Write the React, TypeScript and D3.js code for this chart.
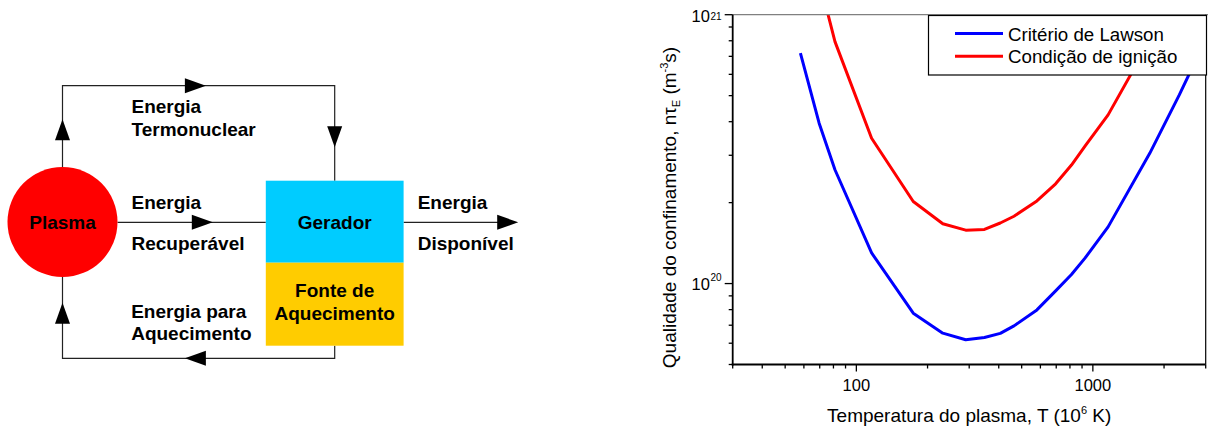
import React from "react";
import * as d3 from "d3";

// temperatures in 10^6 K, confinement quality n*tau_E in m^-3 s
const lawsonTemperature = [58, 69.6, 81.2, 116, 174, 232, 290, 348, 406, 464, 580, 696, 812, 928, 1160, 1740, 2320, 2900];
const lawsonValues = [7.19e20, 3.95e20, 2.65e20, 1.3e20, 7.76e19, 6.54e19, 6.18e19, 6.3e19, 6.53e19, 6.96e19, 7.98e19, 9.39e19, 1.08e20, 1.246e20, 1.625e20, 3.05e20, 5.03e20, 7.6e20];
const ignitionTemperature = [69.6, 81.2, 116, 174, 232, 290, 348, 406, 464, 580, 696, 812, 928, 1160, 1740, 2320];
const ignitionValues = [1.35e21, 7.94e20, 3.47e20, 2.02e20, 1.67e20, 1.58e20, 1.59e20, 1.68e20, 1.78e20, 2.03e20, 2.35e20, 2.76e20, 3.25e20, 4.24e20, 8.0e20, 1.29e21];

const seriesNames = ["Critério de Lawson", "Condição de ignição"];
const seriesColors = ["#0000ff", "#ff0000"];
const xLabelTicks = [100, 1000];

const font = "'Liberation Sans', Arial, sans-serif";

const W = 1208;
const H = 432;
const plot = { left: 732.7, right: 1205.7, top: 14.7, bottom: 364.5 };

const x = d3.scaleLog().domain([30, 3000]).range([plot.left, plot.right]);
const y = d3.scaleLog().domain([5e19, 1e21]).range([plot.bottom, plot.top]);

const line = d3
  .line<[number, number]>()
  .x(d => x(d[0]))
  .y(d => y(d[1]));

const isDecade = (v: number) => Math.abs(Math.log10(v) - Math.round(Math.log10(v))) < 1e-9;

// arrowhead triangle, tip at (tx, ty)
const arrow = (tx: number, ty: number, dir: string) => {
  const L = 21;
  const h = 7.5;
  if (dir === "up") return `M${tx},${ty}L${tx - h},${ty + L}L${tx + h},${ty + L}Z`;
  if (dir === "down") return `M${tx},${ty}L${tx - h},${ty - L}L${tx + h},${ty - L}Z`;
  if (dir === "left") return `M${tx},${ty}L${tx + L},${ty - h}L${tx + L},${ty + h}Z`;
  return `M${tx},${ty}L${tx - L},${ty - h}L${tx - L},${ty + h}Z`;
};

const Diagram = () => {
  const lbl = { fontFamily: font, fontWeight: 700, fontSize: 19, fill: "#000" } as const;
  return (
    <g>
      <g fill="none" stroke="#222" strokeWidth={1.2}>
        <path d="M62.5,167V85.7H334.7V180.7" />
        <path d="M117.5,222.3H265.8" />
        <path d="M403.6,222.3H512" />
        <path d="M334.7,345.7V358.3H62.5V277" />
      </g>
      <g fill="#000">
        <path d={arrow(62.5, 119.3, "up")} />
        <path d={arrow(205.9, 85.7, "right")} />
        <path d={arrow(334.7, 147.3, "down")} />
        <path d={arrow(212.8, 222.3, "right")} />
        <path d={arrow(518.2, 222.3, "right")} />
        <path d={arrow(184.9, 358.3, "left")} />
        <path d={arrow(62.5, 302.7, "up")} />
      </g>
      <circle cx={62.5} cy={222} r={55} fill="#ff0000" />
      <rect x={265.8} y={180.7} width={137.8} height={82} fill="#00ccff" />
      <rect x={265.8} y={262.7} width={137.8} height={83} fill="#ffcc00" />

      <text {...lbl} x={62.5} y={229} textAnchor="middle">Plasma</text>
      <text {...lbl} x={334.7} y={229.3} textAnchor="middle">Gerador</text>
      <text {...lbl} x={334.7} y={296.7} textAnchor="middle">Fonte de</text>
      <text {...lbl} x={334.7} y={319.5} textAnchor="middle">Aquecimento</text>

      <text {...lbl} x={131.5} y={113.3}>Energia</text>
      <text {...lbl} x={131.5} y={136}>Termonuclear</text>
      <text {...lbl} x={131.5} y={209.3}>Energia</text>
      <text {...lbl} x={131.5} y={250}>Recuperável</text>
      <text {...lbl} x={417.7} y={209.3}>Energia</text>
      <text {...lbl} x={417.7} y={250}>Disponível</text>
      <text {...lbl} x={131.2} y={317.7}>Energia para</text>
      <text {...lbl} x={131.2} y={340}>Aquecimento</text>
    </g>
  );
};

const Chart = () => {
  const series = [
    d3.zip(lawsonTemperature, lawsonValues) as [number, number][],
    d3.zip(ignitionTemperature, ignitionValues) as [number, number][],
  ];
  const xTicks = x.ticks();
  const yTicks = y.ticks();

  return (
    <g fontFamily={font}>
      <defs>
        <clipPath id="plotClip">
          <rect x={plot.left} y={plot.top} width={plot.right - plot.left} height={plot.bottom - plot.top} />
        </clipPath>
      </defs>

      <g clipPath="url(#plotClip)">
        {series.map((s, i) => (
          <path key={i} d={line(s) || ""} fill="none" stroke={seriesColors[i]} strokeWidth={3} strokeLinejoin="round" />
        ))}
      </g>

      {/* frame */}
      <line x1={plot.left} x2={W} y1={plot.top} y2={plot.top} stroke="#808080" strokeWidth={1.2} />
      <line x1={plot.right} x2={plot.right} y1={plot.top} y2={plot.bottom} stroke="#000" strokeWidth={1.2} />
      <line x1={plot.left} x2={plot.left} y1={plot.top} y2={plot.bottom + 1} stroke="#000" strokeWidth={1.8} />
      <line x1={plot.left - 1} x2={plot.right} y1={plot.bottom} y2={plot.bottom} stroke="#000" strokeWidth={1.8} />

      {/* x ticks */}
      {xTicks.map((t, i) => (
        <line key={i} x1={x(t)} x2={x(t)} y1={plot.bottom} y2={plot.bottom + (isDecade(t) ? 7 : 4)} stroke="#000" strokeWidth={1.3} />
      ))}
      {xLabelTicks.map(t => (
        <text key={t} x={x(t)} y={390.5} fontSize={16.5} textAnchor="middle" fill="#000">
          {d3.format("d")(t)}
        </text>
      ))}

      {/* y ticks */}
      {yTicks.map((t, i) => (
        <line key={i} x1={plot.left - (isDecade(t) ? 8 : 4)} x2={plot.left} y1={y(t)} y2={y(t)} stroke="#000" strokeWidth={1.3} />
      ))}
      {yTicks.filter(isDecade).map(t => {
        const yy = y(t);
        return (
          <g key={t} fill="#000">
            <text x={691.5} y={Math.max(yy + 6, 22.3)} fontSize={16.5}>10</text>
            <text x={710.5} y={Math.max(yy - 2.3, 19.5)} fontSize={10}>
              {Math.round(Math.log10(t))}
            </text>
          </g>
        );
      })}

      {/* axis titles */}
      <text x={(plot.left + plot.right) / 2} y={422} fontSize={19} textAnchor="middle" fill="#000">
        Temperatura do plasma, T (10
        <tspan fontSize={11} dy={-8}>6</tspan>
        <tspan dy={8}> K)</tspan>
      </text>
      <text transform="translate(676,207.5) rotate(-90)" fontSize={19} textAnchor="middle" fill="#000">
        Qualidade do confinamento, nτ
        <tspan fontSize={11} dy={4}>E</tspan>
        <tspan dy={-4}> (m</tspan>
        <tspan fontSize={11} dy={-8}>-3</tspan>
        <tspan dy={8}>s)</tspan>
      </text>

      {/* legend */}
      <rect x={928.5} y={15.5} width={278} height={59.5} fill="#fff" stroke="#000" strokeWidth={1.2} />
      {seriesNames.map((name, i) => (
        <g key={name}>
          <line x1={955} x2={1003} y1={33.5 + i * 22.7} y2={33.5 + i * 22.7} stroke={seriesColors[i]} strokeWidth={3} />
          <text x={1008} y={40.5 + i * 22.8} fontSize={18.7} fill="#000">{name}</text>
        </g>
      ))}
    </g>
  );
};

export default function App() {
  return (
    <svg width={W} height={H} style={{ position: "absolute", left: 0, top: 0, background: "#fff" }}>
      <rect width={W} height={H} fill="#fff" />
      <Diagram />
      <Chart />
    </svg>
  );
}
